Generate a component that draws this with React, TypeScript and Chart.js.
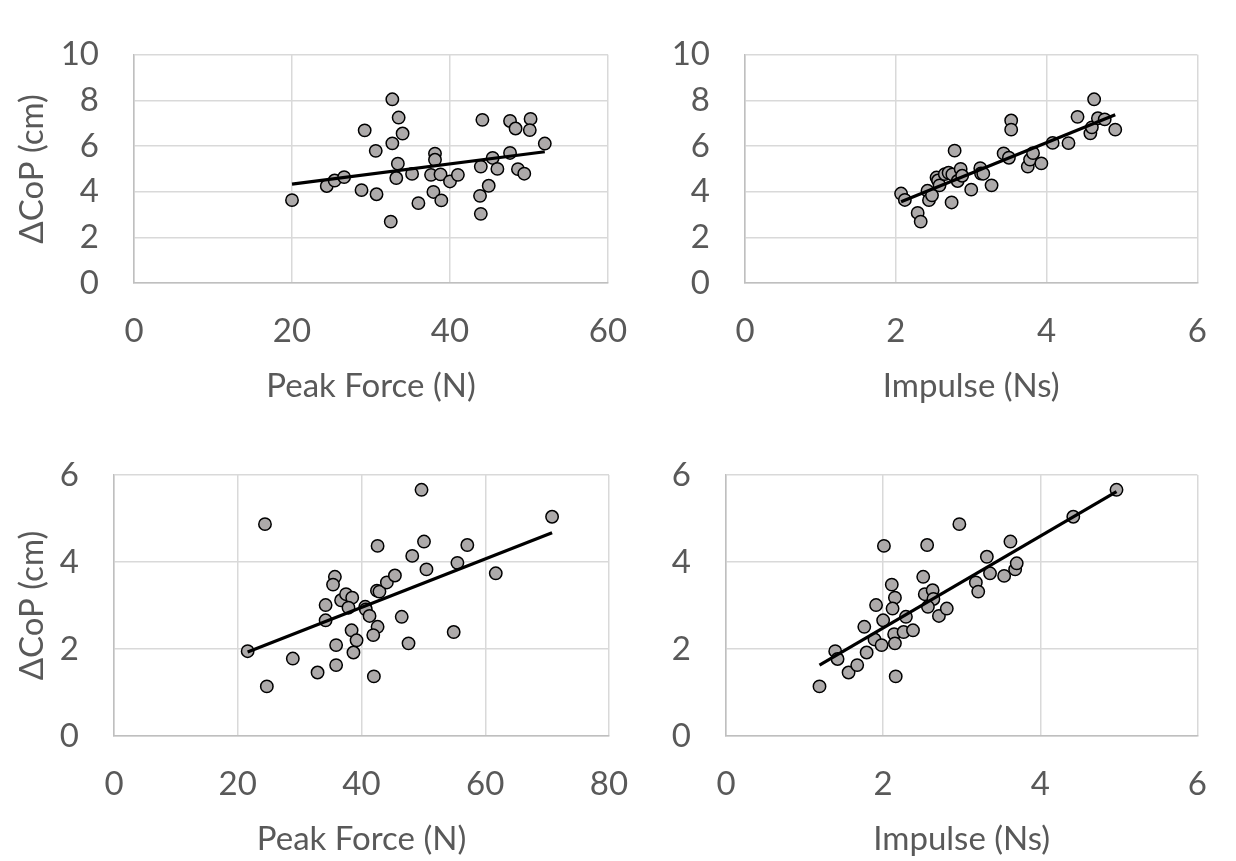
import React, { useEffect, useRef } from 'react';
import { Chart, registerables } from 'chart.js';

Chart.register(...registerables);

// ---------- DATA ----------
// Top-left: Peak Force (N) vs ΔCoP (cm)
const forceTop = [20.0, 24.4, 25.4, 26.6, 28.8, 29.2, 30.6, 30.7, 32.7, 32.5, 33.5, 34.0, 32.7, 33.4, 33.2, 35.2, 36.0, 37.6, 38.1, 38.1, 38.8, 37.9, 38.9, 40.0, 41.0, 44.1, 43.9, 43.8, 43.9, 44.9, 45.4, 46.0, 47.6, 48.3, 50.2, 50.1, 47.6, 48.6, 49.4, 52.0];
const copTopForce = [3.63, 4.25, 4.49, 4.64, 4.07, 6.69, 5.79, 3.89, 8.05, 2.69, 7.25, 6.55, 6.12, 5.23, 4.60, 4.78, 3.50, 4.74, 5.67, 5.40, 4.76, 3.99, 3.62, 4.45, 4.74, 7.15, 5.10, 3.82, 3.03, 4.26, 5.48, 5.00, 7.10, 6.77, 7.19, 6.70, 5.70, 4.99, 4.79, 6.11];
const trendForceTopX = [20.0, 52.0];
const trendForceTopY = [4.33, 5.75];

// Top-right: Impulse (Ns) vs ΔCoP (cm)
const impulseTop = [2.07, 2.12, 2.29, 2.33, 2.42, 2.44, 2.48, 2.54, 2.56, 2.58, 2.65, 2.70, 2.75, 2.78, 2.74, 2.82, 2.86, 2.88, 3.00, 3.12, 3.13, 3.16, 3.27, 3.43, 3.50, 3.53, 3.53, 3.75, 3.78, 3.82, 3.93, 4.08, 4.29, 4.41, 4.63, 4.58, 4.60, 4.68, 4.77, 4.91];
const copTopImpulse = [3.92, 3.64, 3.07, 2.69, 4.04, 3.63, 3.84, 4.62, 4.49, 4.28, 4.77, 4.83, 4.76, 5.80, 3.53, 4.47, 5.00, 4.70, 4.09, 5.03, 4.80, 4.79, 4.28, 5.68, 5.49, 7.12, 6.72, 5.10, 5.41, 5.69, 5.24, 6.14, 6.13, 7.28, 8.05, 6.56, 6.82, 7.22, 7.17, 6.72];
const trendImpulseTopX = [2.07, 4.91];
const trendImpulseTopY = [3.56, 7.37];

// Bottom-left: Peak Force (N) vs ΔCoP (cm)
const forceBottom = [21.6, 24.4, 24.7, 28.9, 32.9, 34.2, 34.2, 35.7, 35.4, 35.9, 35.9, 36.7, 37.5, 38.5, 37.9, 38.4, 39.2, 38.7, 40.6, 40.7, 41.3, 42.6, 41.9, 42.0, 42.6, 42.5, 42.9, 44.1, 45.4, 46.5, 47.6, 48.2, 49.7, 50.1, 50.5, 54.9, 55.5, 57.1, 61.7, 70.8];
const copBottomForce = [1.95, 4.87, 1.14, 1.78, 1.46, 3.01, 2.66, 3.66, 3.48, 2.09, 1.63, 3.12, 3.26, 3.18, 2.95, 2.43, 2.20, 1.92, 2.97, 2.91, 2.76, 2.51, 2.32, 1.37, 4.37, 3.34, 3.32, 3.53, 3.69, 2.74, 2.13, 4.14, 5.66, 4.47, 3.83, 2.39, 3.98, 4.39, 3.74, 5.04];
const trendForceBottomX = [21.6, 70.8];
const trendForceBottomY = [1.93, 4.67];

// Bottom-right: Impulse (Ns) vs ΔCoP (cm)
const impulseBottom = [1.19, 1.39, 1.42, 1.56, 1.67, 1.76, 1.79, 1.91, 1.89, 1.98, 2.00, 2.01, 2.11, 2.15, 2.12, 2.14, 2.15, 2.16, 2.26, 2.29, 2.38, 2.51, 2.53, 2.63, 2.64, 2.57, 2.71, 2.81, 2.56, 2.97, 3.18, 3.21, 3.32, 3.36, 3.54, 3.62, 3.68, 3.70, 4.42, 4.97];
const copBottomImpulse = [1.14, 1.95, 1.77, 1.46, 1.63, 2.51, 1.92, 3.01, 2.22, 2.09, 2.66, 4.37, 3.48, 3.18, 2.93, 2.34, 2.13, 1.37, 2.39, 2.74, 2.43, 3.66, 3.26, 3.35, 3.15, 2.97, 2.76, 2.93, 4.39, 4.87, 3.53, 3.32, 4.12, 3.74, 3.68, 4.47, 3.83, 3.97, 5.04, 5.66];
const trendImpulseBottomX = [1.19, 4.97];
const trendImpulseBottomY = [1.63, 5.62];

// Tick values
const forceTicksTop = [0, 20, 40, 60];
const impulseTicks = [0, 2, 4, 6];
const forceTicksBottom = [0, 20, 40, 60, 80];
const copTicksTop = [0, 2, 4, 6, 8, 10];
const copTicksBottom = [0, 2, 4, 6];

const xTitleForce = 'Peak Force (N)';
const xTitleImpulse = 'Impulse (Ns)';
const yTitleCop = 'ΔCoP (cm)';

// ---------- LAYOUT / STYLE ----------
const PAGE_W = 1236;
const PAGE_H = 861;
const X_AXIS_H = 123;
const FONT = { family: 'Lato, "Open Sans", sans-serif', size: 33, lineHeight: 1.2 };
const TEXT_COLOR = '#595959';
const GRID_COLOR = '#D9D9D9';
const AXIS_COLOR = '#BFBFBF';
const MARKER_FILL = '#ADAAAA';

type Area = { l: number; t: number; r: number; b: number; yAxisW: number };

type PanelSpec = {
  xs: number[];
  ys: number[];
  tx: number[];
  ty: number[];
  xTicks: number[];
  yTicks: number[];
  xTitle: string;
  yTitle: string | null;
  area: Area;
};

const panels: PanelSpec[] = [
  { xs: forceTop, ys: copTopForce, tx: trendForceTopX, ty: trendForceTopY, xTicks: forceTicksTop, yTicks: copTicksTop, xTitle: xTitleForce, yTitle: yTitleCop, area: { l: 134, t: 21, r: 608, b: 283, yAxisW: 134 } },
  { xs: impulseTop, ys: copTopImpulse, tx: trendImpulseTopX, ty: trendImpulseTopY, xTicks: impulseTicks, yTicks: copTicksTop, xTitle: xTitleImpulse, yTitle: null, area: { l: 745, t: 21, r: 1221, b: 283, yAxisW: 134 } },
  { xs: forceBottom, ys: copBottomForce, tx: trendForceBottomX, ty: trendForceBottomY, xTicks: forceTicksBottom, yTicks: copTicksBottom, xTitle: xTitleForce, yTitle: yTitleCop, area: { l: 114, t: 475, r: 609, b: 736, yAxisW: 114 } },
  { xs: impulseBottom, ys: copBottomImpulse, tx: trendImpulseBottomX, ty: trendImpulseBottomY, xTicks: impulseTicks, yTicks: copTicksBottom, xTitle: xTitleImpulse, yTitle: null, area: { l: 726, t: 475, r: 1221, b: 736, yAxisW: 114 } },
];

function Panel({ spec }: { spec: PanelSpec }) {
  const ref = useRef<HTMLCanvasElement | null>(null);

  useEffect(() => {
    if (!ref.current) return;
    const { area } = spec;
    const points = spec.xs.map((x, i) => ({ x, y: spec.ys[i] }));
    const trend = spec.tx.map((x, i) => ({ x, y: spec.ty[i] }));
    const xMin = spec.xTicks[0];
    const xMax = spec.xTicks[spec.xTicks.length - 1];
    const yMin = spec.yTicks[0];
    const yMax = spec.yTicks[spec.yTicks.length - 1];

    const chart = new Chart(ref.current, {
      type: 'scatter',
      data: {
        datasets: [
          {
            data: trend,
            showLine: true,
            borderColor: '#000000',
            borderWidth: 3.2,
            pointRadius: 0,
            pointHoverRadius: 0,
            order: 0,
          } as any,
          {
            data: points,
            pointBackgroundColor: MARKER_FILL,
            pointBorderColor: '#000000',
            pointBorderWidth: 1.5,
            pointRadius: 6.2,
            order: 1,
          } as any,
        ],
      },
      options: {
        responsive: false,
        animation: false,
        layout: {
          padding: {
            left: area.l - area.yAxisW,
            top: area.t,
            right: PAGE_W - area.r,
            bottom: PAGE_H - area.b - X_AXIS_H,
          },
        },
        plugins: { legend: { display: false }, tooltip: { enabled: false } },
        scales: {
          x: {
            type: 'linear',
            min: xMin,
            max: xMax,
            afterBuildTicks: (axis: any) => {
              axis.ticks = spec.xTicks.map((v) => ({ value: v }));
            },
            afterFit: (axis: any) => {
              axis.height = X_AXIS_H;
            },
            grid: { color: GRID_COLOR, lineWidth: 1.5, drawTicks: false },
            border: { color: AXIS_COLOR, width: 1.5 },
            ticks: { padding: 29, color: TEXT_COLOR, font: FONT, maxRotation: 0, autoSkip: false },
            title: { display: true, text: spec.xTitle, color: TEXT_COLOR, font: FONT, padding: 0 },
          },
          y: {
            type: 'linear',
            min: yMin,
            max: yMax,
            afterBuildTicks: (axis: any) => {
              axis.ticks = spec.yTicks.map((v) => ({ value: v }));
            },
            afterFit: (axis: any) => {
              axis.width = area.yAxisW;
            },
            grid: { color: GRID_COLOR, lineWidth: 1.5, drawTicks: false },
            border: { color: AXIS_COLOR, width: 1.5 },
            ticks: { padding: 35, color: TEXT_COLOR, font: FONT, autoSkip: false },
            title: {
              display: !!spec.yTitle,
              text: spec.yTitle || '',
              color: TEXT_COLOR,
              font: FONT,
              padding: { top: 13, bottom: 0 },
            },
          },
        },
      } as any,
    });

    return () => {
      chart.destroy();
    };
  }, [spec]);

  return (
    <canvas
      ref={ref}
      width={PAGE_W}
      height={PAGE_H}
      style={{ position: 'absolute', left: 0, top: 0, width: PAGE_W, height: PAGE_H }}
    />
  );
}

export default function App() {
  return (
    <div style={{ position: 'absolute', left: 0, top: 0, width: PAGE_W, height: PAGE_H, background: '#ffffff', overflow: 'hidden' }}>
      {panels.map((p, i) => (
        <Panel key={i} spec={p} />
      ))}
    </div>
  );
}
